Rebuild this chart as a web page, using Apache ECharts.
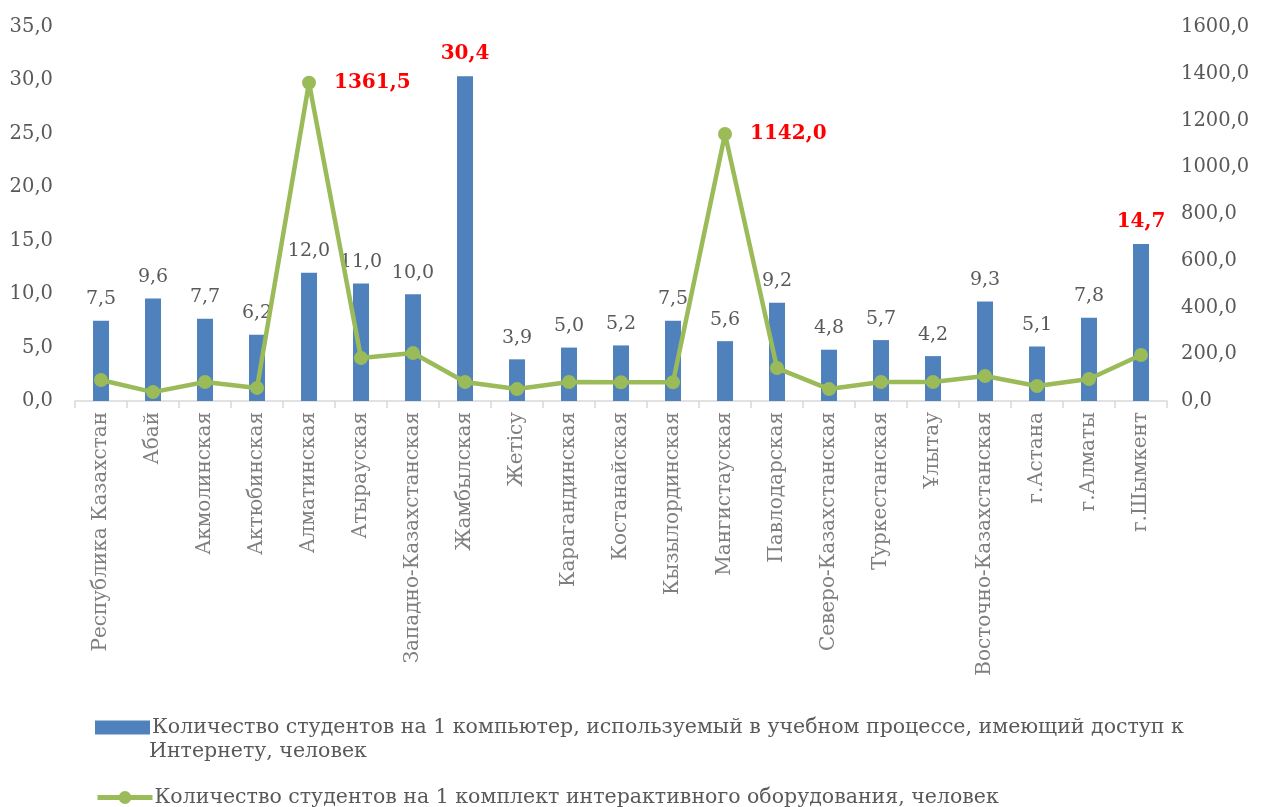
<!DOCTYPE html>
<html><head><meta charset="utf-8">
<script src="https://cdn.jsdelivr.net/npm/echarts@6/dist/echarts.min.js"></script>
<style>html,body{margin:0;padding:0;background:#fff}#c{width:1262px;height:807px}</style>
</head><body><div id="c"></div>
<script>
const categories = ["Республика Казахстан","Абай","Акмолинская","Актюбинская","Алматинская","Атырауская","Западно-Казахстанская","Жамбылская","Жетісу","Карагандинская","Костанайская","Кызылординская","Мангистауская","Павлодарская","Северо-Казахстанская","Туркестанская","Ұлытау","Восточно-Казахстанская","г.Астана","г.Алматы","г.Шымкент"];
const computersPerStudent = [7.5,9.6,7.7,6.2,12.0,11.0,10.0,30.4,3.9,5.0,5.2,7.5,5.6,9.2,4.8,5.7,4.2,9.3,5.1,7.8,14.7];
const interactivePerStudent = [90,38,81,56,1361.5,184,205,81,51,81,80,80,1142.0,141,51,81,81,107,64,94,197];
const highlightBars = [7,20];
const highlightLine = [4,12];
const seriesNames = ["Количество студентов на 1 компьютер, используемый в учебном процессе, имеющий доступ к Интернету, человек","Количество студентов на 1 комплект интерактивного оборудования, человек"];

const FONT = "DejaVu Serif";
const fmt = v => v.toFixed(1).replace('.', ',');
const chart = echarts.init(document.getElementById('c'));
const redLabel = {color:'#FF0000', fontWeight:'bold', fontSize:20};

chart.setOption({
  animation:false,
  textStyle:{fontFamily:FONT},
  grid:{left:75,right:95,top:27,bottom:406,containLabel:false},
  legend:[{
    data:[{name:seriesNames[0],icon:'rect'}], left:90, top:712, itemWidth:55, itemHeight:14, itemGap:4,
    formatter:()=> "Количество студентов на 1 компьютер, используемый в учебном процессе, имеющий доступ к",
    textStyle:{fontFamily:FONT,fontSize:20.5,color:'#595959',padding:[0,0,0,-3]}
  },{
    data:[seriesNames[1]], left:90, top:782, itemWidth:55, itemHeight:16,
    lineStyle:{width:5},
    textStyle:{fontFamily:FONT,fontSize:20.5,color:'#595959',padding:[0,0,0,-3]}
  }],
  graphic:[{type:'text', left:149, top:741, style:{text:'Интернету, человек', font:'20.5px "DejaVu Serif"', fill:'#595959'}}],
  xAxis:{type:'category', data:categories,
    axisLine:{lineStyle:{color:'#d9d9d9',width:1.5}},
    axisTick:{show:true,alignWithLabel:false,length:7,lineStyle:{color:'#d9d9d9',width:1.5}},
    axisLabel:{rotate:90,interval:0,fontSize:20,color:'#7f7f7f',fontFamily:FONT,margin:11}
  },
  yAxis:[{type:'value',min:0,max:35,interval:5,splitLine:{show:false},
    axisLabel:{formatter:v=>fmt(v),fontSize:19.5,color:'#595959',fontFamily:FONT,margin:22}},
   {type:'value',min:0,max:1600,interval:200,splitLine:{show:false},
    axisLabel:{formatter:v=>fmt(v),fontSize:19.5,color:'#595959',fontFamily:FONT,margin:14}}],
  series:[{
    name:seriesNames[0], type:'bar', yAxisIndex:0, barWidth:16,
    itemStyle:{color:'#4F81BD'},
    data:computersPerStudent.map((v,i)=>highlightBars.includes(i)?{value:v,label:redLabel}:v),
    label:{show:true,position:'top',distance:12,formatter:p=>fmt(p.value),fontSize:19,color:'#595959',fontFamily:FONT}
  },{
    name:seriesNames[1], type:'line', yAxisIndex:1,
    lineStyle:{color:'#9BBB59',width:4.5}, itemStyle:{color:'#9BBB59'},
    symbol:'circle', symbolSize:14,
    data:interactivePerStudent.map((v,i)=>highlightLine.includes(i)?{value:v,label:{show:true}}:v),
    label:{show:false,position:'right',distance:18,formatter:p=>fmt(p.value),color:'#FF0000',fontWeight:'bold',fontSize:20,fontFamily:FONT}
  }]
});
</script></body></html>
